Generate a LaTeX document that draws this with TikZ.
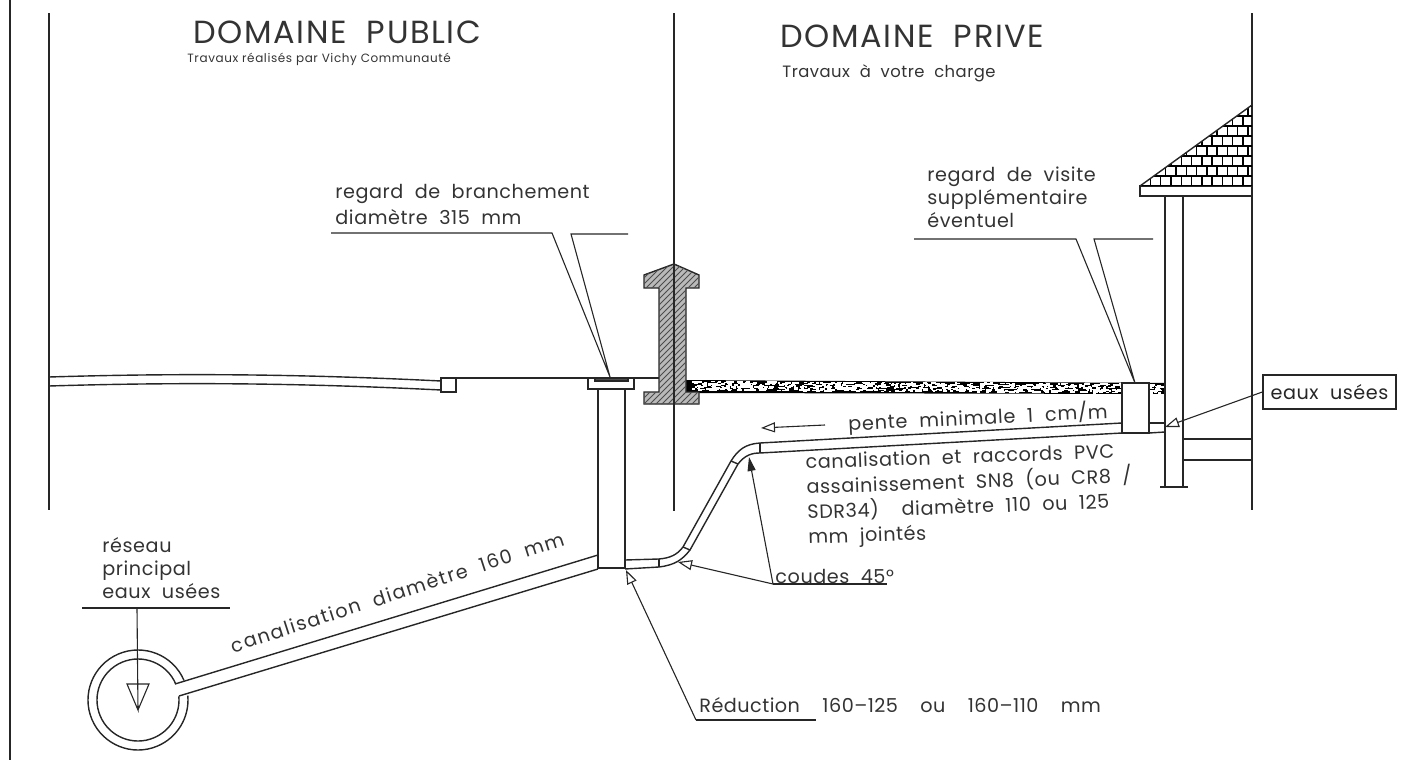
\documentclass[tikz,border=0pt]{standalone}
\usepackage{fontspec}
\setmainfont{Poppins}
\newfontfamily\cadfont[LetterSpace=3,WordSpace=2]{Poppins}
\newfontfamily\titlefont[LetterSpace=5]{Poppins}
\usepackage{tikz}
\usetikzlibrary{arrows.meta}
\usetikzlibrary{patterns}
\newcommand{\txtbig}{\titlefont\fontsize{16}{18}\selectfont}
\newcommand{\txtmid}{\cadfont\fontsize{9.6}{11.5}\selectfont}
\newcommand{\txtpvc}{\cadfont\fontsize{9.6}{12.5}\selectfont}
\newcommand{\txtsmall}{\cadfont\fontsize{8.2}{11}\selectfont}
\newcommand{\txttiny}{\titlefont\fontsize{6}{8}\selectfont}
\tikzset{
	plan/.style={line width=.7pt,black!85},
	leader/.style={line width=.55pt,black!85},
	opentip/.style={-{Triangle[open,length=7pt,width=5pt]}},
	every node/.style={inner sep=0pt,text=black!80}
}

\begin{document}
\begin{tikzpicture}[x=.5pt,y=-.5pt]
	\useasboundingbox (0,0) rectangle (1421,760);

	% soil under the garden, speckled
	\fill[black] (686,380) -- (1165,383) -- (1165,394) -- (686,393) -- cycle;
	\pgfmathsetseed{11}
	\foreach \i in {1,...,800}{
		\pgfmathsetmacro{\gravelx}{692+rnd*470}
		\pgfmathsetmacro{\gravely}{380.5+(\gravelx-686)*.006+rnd*9}
		\fill[white] (\gravelx,\gravely) rectangle ++(2+rnd*3,1.6);
	}

	% boundary wall
	\draw[plan,fill=gray!55] (674,264) -- (699,275) -- (699,288) -- (686,288) -- (686,392)
		-- (699,392) -- (699,404) -- (644,404) -- (644,392) -- (659,392) -- (659,288)
		-- (644,288) -- (644,275) -- cycle;
	\fill[pattern=north east lines,pattern color=black!70] (674,264) -- (699,275) -- (699,288)
		-- (686,288) -- (686,392) -- (699,392) -- (699,404) -- (644,404) -- (644,392)
		-- (659,392) -- (659,288) -- (644,288) -- (644,275) -- cycle;

	% frame and boundaries
	\draw[plan] (10,0) -- (10,760);
	\draw[plan] (49,13) -- (49,510);
	\draw[plan] (674,13) -- (674,511);
	\draw[plan] (1252,13) -- (1252,510);

	% road
	\draw[plan] (49,377) .. controls (180,373) and (300,374) .. (441,381);
	\draw[plan] (49,386) .. controls (180,382) and (300,383) .. (441,390);
	\draw[plan] (441,378) rectangle (456,392);
	\draw[plan] (456,378) -- (659,378);

	% street inspection chamber
	\draw[plan,fill=white] (588,378) rectangle (634,389);
	\draw[plan,fill=black!70] (595,378) rectangle (628,381);
	\draw[plan] (598,389) rectangle (625,568);

	% pipe 160 and main sewer
	\draw[plan] (138,700) ++(-23:50) arc (-23:-365:50);
	\draw[plan] (138,700) ++(-23:41) arc (-23:-365:41);
	\draw[plan] (175,684) -- (598,555);
	\draw[plan] (179,696) -- (598,569);

	% pipe with bends
	\draw[plan] (625,560) -- (659,559) .. controls (670,558) and (677,555) .. (683,547)
		-- (731,461) .. controls (738,450) and (745,444) .. (760,443) -- (1122,423);
	\draw[plan] (625,569) -- (659,567) .. controls (675,565) and (682,560) .. (690,550)
		-- (738,464) .. controls (745,455) and (752,453) .. (760,453) -- (1122,433);
	\draw[plan] (659,559) -- (659,567);
	\draw[plan] (683,547) -- (690,550);
	\draw[plan] (731,461) -- (738,464);
	\draw[plan] (760,443) -- (760,453);

	% private inspection chamber
	\draw[plan,fill=white] (1122,383) rectangle (1149,433);
	\draw[plan] (1149,423) -- (1165,423);
	\draw[plan] (1149,433) -- (1165,432);

	% house
	\draw[plan] (1165,196) -- (1165,487);
	\draw[plan] (1183,196) -- (1183,487);
	\draw[plan] (1160,487) -- (1188,487);
	\draw[plan] (1183,439) -- (1252,439);
	\draw[plan] (1183,460) -- (1252,460);
	\draw[plan] (1140,186) rectangle (1252,196);
	\begin{scope}
		\clip (1252,105) -- (1140,186) -- (1252,186) -- cycle;
		\foreach \row in {0,...,8}{
			\pgfmathsetmacro{\rowy}{186-10*\row}
			\pgfmathsetmacro{\rowx}{1140+5*mod(\row,2)}
			\draw[plan,black] (1140,\rowy) -- (1252,\rowy);
			\foreach \brick in {0,...,11}{
				\draw[plan,black] (\rowx+10.3*\brick,\rowy) -- ++(0,-10);
			}
		}
	\end{scope}
	\draw[plan] (1252,105) -- (1140,186);

	% putting arrows and labels:
	\node[anchor=west] at (193,32) (labelpublic) {\txtbig DOMAINE\ \ PUBLIC};
	\node[anchor=west] at (187,59) (labelwork) {\txttiny Travaux réalisés par Vichy Communauté};
	\node[anchor=west] at (780,36) (labelprive) {\txtbig DOMAINE\ \ PRIVE};
	\node[anchor=west] at (782,73) (labelcharge) {\txtsmall Travaux à votre charge};

	\node[anchor=west] at (335,194) (labelbranch) {\txtmid regard de branchement};
	\node[anchor=west] at (335,217) (labeldiam) {\txtmid diamètre 315 mm};
	\coordinate (branchstart) at (331,233);
	\coordinate (branchbend) at (552,233);
	\coordinate (branchtip) at (610,377);
	\coordinate (branchback) at (571,234);
	\coordinate (branchend) at (628,234);
	\draw[leader] (branchstart) -- (branchbend) -- (branchtip) -- (branchback) -- (branchend);

	\node[anchor=north west,align=left,font=\txtmid] at (927,166) (labelvisite) {regard de visite\\ supplémentaire\\ éventuel};
	\coordinate (visitestart) at (914,239);
	\coordinate (visitebend) at (1076,239);
	\coordinate (visitetip) at (1135,383);
	\coordinate (visiteback) at (1094,239);
	\coordinate (visiteend) at (1153,239);
	\draw[leader] (visitestart) -- (visitebend) -- (visitetip) -- (visiteback) -- (visiteend);

	\node[draw,plan,minimum width=66.5pt,minimum height=17pt] at (1329.5,392) (boxeaux) {\txtmid eaux usées};
	\coordinate (eauxtip) at (1165,427);
	\draw[leader,opentip] (boxeaux.west) -- (eauxtip);

	\node[rotate=2.8] at (978,418) (labelpente) {\txtmid\addfontfeatures{LetterSpace=4} pente minimale 1 cm/m};
	\coordinate (pentetail) at (825,425);
	\coordinate (pentetip) at (761,428);
	\draw[leader,opentip] (pentetail) -- (pentetip);

	\node[anchor=north west,rotate=2,align=left,font=\txtpvc] at (805,454) (labelpvc) {canalisation et raccords PVC\\ assainissement SN8 (ou CR8 /\\ SDR34)\ \ diamètre 110 ou 125\\ mm jointés};

	\node[anchor=west] at (775,576) (labelcoudes) {\txtmid coudes 45°};
	\coordinate (coudesstart) at (773,584);
	\coordinate (coudesend) at (887,584);
	\coordinate (coudetipa) at (678,562);
	\coordinate (coudetipb) at (749,457);
	\draw[leader] (coudesstart) -- (coudesend);
	\draw[leader,opentip] (coudesstart) -- (coudetipa);
	\draw[leader,-{Triangle[length=7pt,width=4pt]}] (coudesstart) -- (coudetipb);

	\node[anchor=west] at (699,705) (labelreduc) {\txtmid\addfontfeatures{LetterSpace=2.5} Réduction\ \ 160–125\ \ ou\ \ 160–110\ \ mm};
	\coordinate (reducstart) at (696,720);
	\coordinate (reducend) at (816,720);
	\coordinate (reductip) at (626,570);
	\draw[leader] (reducstart) -- (reducend);
	\draw[leader,opentip] (reducstart) -- (reductip);

	\node[rotate=18] at (397,592) (labelpipe) {\txtmid\addfontfeatures{LetterSpace=8} canalisation diamètre 160 mm};

	\node[anchor=north west,align=left,font=\txtmid] at (102,537) (labelreseau) {réseau\\ principal\\ eaux usées};
	\coordinate (reseaustart) at (82,608);
	\coordinate (reseaumid) at (137,608);
	\coordinate (reseauend) at (230,608);
	\coordinate (reseautip) at (138,710);
	\draw[plan] (reseaustart) -- (reseauend);
	\draw[leader] (reseaumid) -- (reseautip) -- (127,684) -- (149,684) -- (reseautip);

\end{tikzpicture}
\end{document}
